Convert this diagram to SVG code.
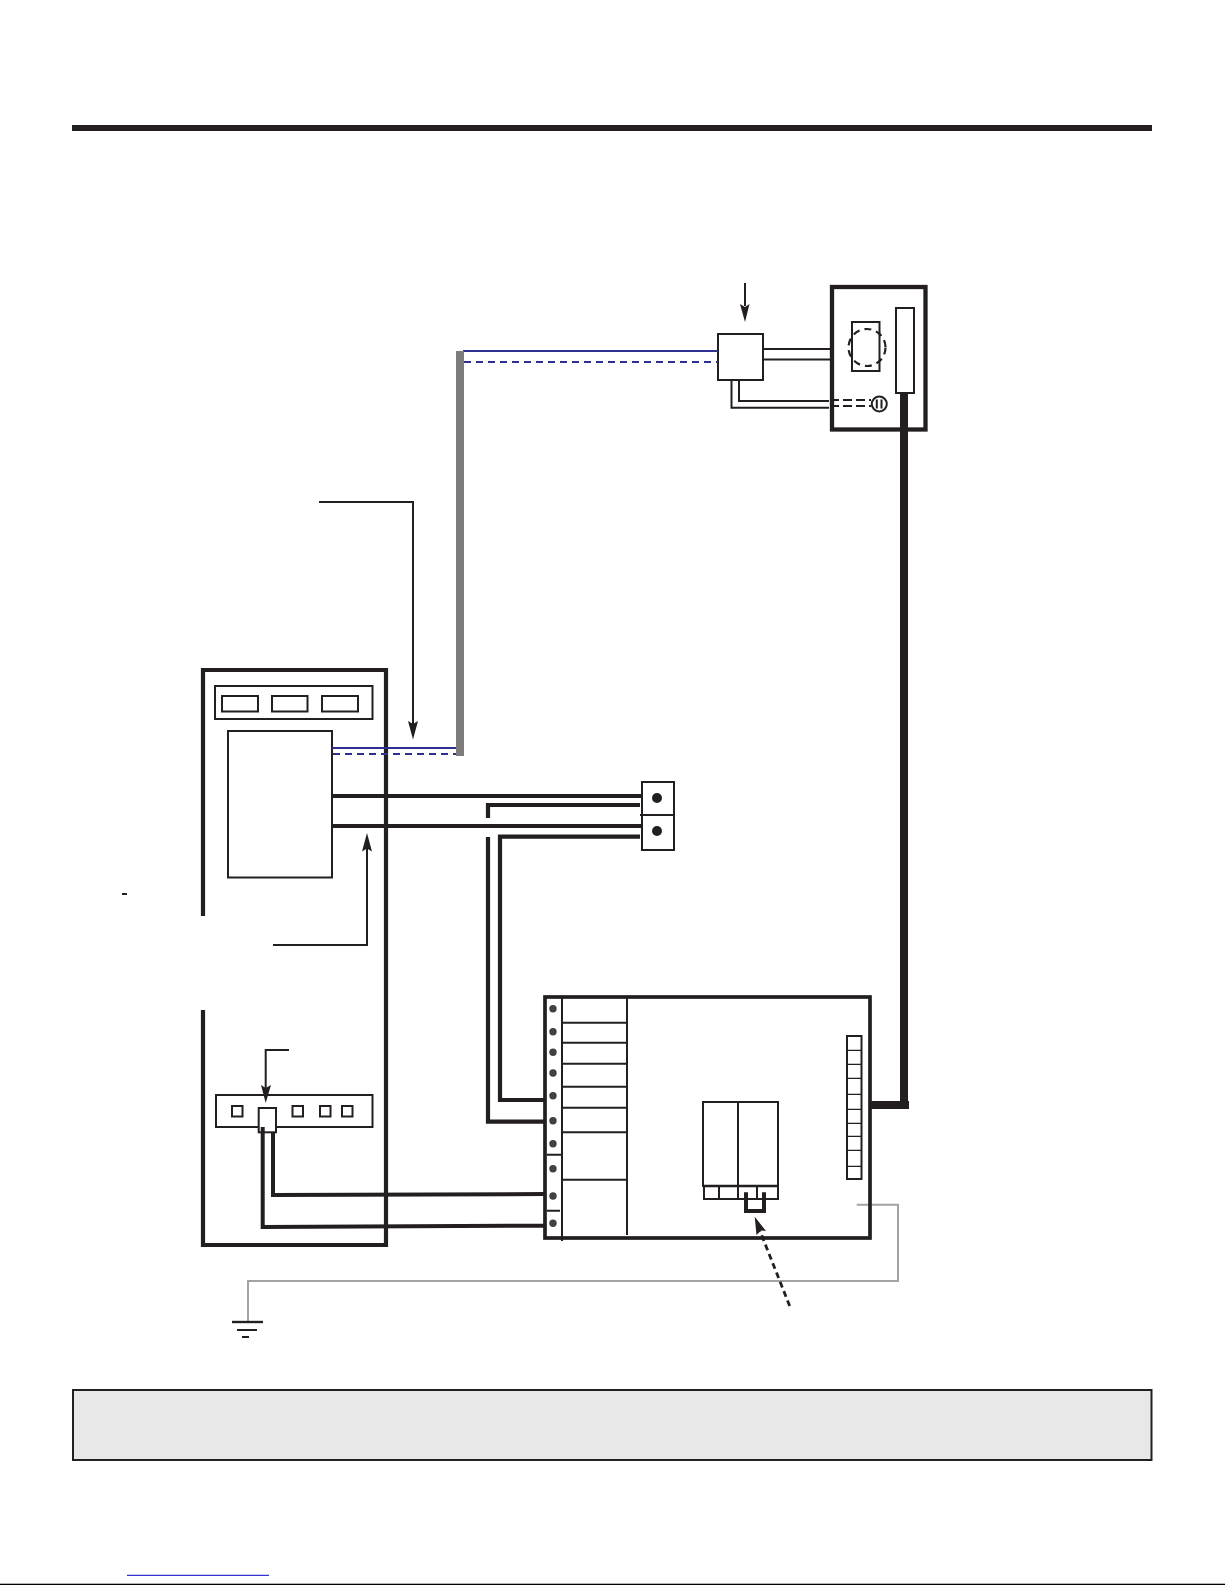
<svg xmlns="http://www.w3.org/2000/svg" width="1225" height="1585" viewBox="0 0 1225 1585">
<style>
.k{fill:none;stroke:#231f20;stroke-width:2}
.w{fill:#fff;stroke:#231f20;stroke-width:2}
.b{fill:none;stroke:#231f20;stroke-width:4.200}
.t{fill:none;stroke:#231f20;stroke-width:4}
.u{fill:none;stroke:#2e3192;stroke-width:2}
.d{stroke-dasharray:7 5}
.g{fill:none;stroke:#a3a3a3;stroke-width:2}
.h{fill:#231f20}
.p{fill:#414042}
</style>
<rect width="1225" height="1585" fill="#fff"/>
<g id="decor">
<rect x="72" y="125" width="1080" height="6" class="h"/>
<rect x="122" y="893" width="5" height="2" class="h"/>
<rect x="73" y="1390" width="1078.500" height="70" fill="#e8e8e8" stroke="#231f20" stroke-width="2"/>
<rect x="127" y="1574.800" width="142" height="1" fill="#0000cc"/>
<rect x="0" y="1583.700" width="1225" height="1.300" fill="#000"/>
</g>
<g id="panel-left">
<path class="b" d="M203 916V670H386V1245H203V1010"/>
<rect class="k" x="215" y="686" width="157.500" height="33"/>
<rect class="k" x="222" y="696" width="36" height="15.500"/>
<rect class="k" x="272" y="696" width="35.500" height="15.500"/>
<rect class="k" x="322" y="696" width="36" height="15.500"/>
<rect class="k" x="228" y="731" width="104" height="146.500"/>
<rect class="k" x="216" y="1095" width="156.500" height="32"/>
<rect class="k" x="232" y="1106" width="10.500" height="10.500"/>
<rect class="k" x="292.500" y="1106" width="10.500" height="10.500"/>
<rect class="k" x="320" y="1106" width="10.500" height="10.500"/>
<rect class="k" x="342" y="1106" width="10.500" height="10.500"/>
</g>
<g id="cabinet-top">
<rect x="832" y="287" width="93.500" height="142.500" fill="none" stroke="#231f20" stroke-width="4.300"/>
<rect class="k" x="852" y="322" width="27.500" height="49"/>
<circle cx="867" cy="347.500" r="18.500" fill="none" stroke="#231f20" stroke-width="2.200" stroke-dasharray="7 5"/>
<rect class="w" x="896" y="308" width="18" height="85"/>
<circle class="k" cx="879.300" cy="404" r="7.500"/>
<path class="k" d="M876.800 399.500V408.500M881.500 399.500V408.500" stroke-width="1.200"/>
</g>
<g id="junction-box"><rect class="k" x="718" y="334" width="45" height="46"/></g>
<g id="terminal-blocks">
<rect class="k" x="642" y="782" width="32" height="33"/>
<rect class="k" x="642" y="815" width="32" height="35"/>
<path d="M640 815H672" class="k" stroke-width="2.400"/>
<circle class="h" cx="657" cy="798" r="5"/>
<circle class="h" cx="657" cy="831" r="5"/>
</g>
<g id="connectors">
<path class="k" d="M745 283V306"/>
<polygon class="h" points="745,322 740,304 745,307 749.500,304"/>
<path class="k" d="M763 349H830M763 359.500H830"/>
<path class="k" d="M739 380V401H829M731.500 380V407.700H829"/>
<path class="k" d="M830 400H871M830 406H871" stroke-dasharray="9 4"/>
<path class="u" d="M463 351H718"/>
<path class="u d" d="M464 362H718"/>
<path class="u" d="M332 748H456"/>
<path class="u d" d="M333 754H456"/>
<rect x="456" y="351" width="8" height="405" fill="#7d7b7c"/>
<path class="k" d="M319 502H413V725"/>
<polygon class="h" points="413,739.500 408,721 413,724 418,721"/>
<path class="b" d="M332 796H642M332 826H642"/>
<path class="b" d="M640 805H488V818M488 837V1121.700H545"/>
<path class="b" d="M640 836.700H500V1100H545"/>
<path class="k" d="M273 945H367V848"/>
<polygon class="h" points="367,833 362,851.500 367,848.500 372,851.500"/>
<path class="k" d="M289 1050H265.700V1088"/>
<polygon class="h" points="265.700,1103 261,1085 265.700,1088 271,1085"/>
<path class="t" d="M273 1132V1195L545 1194"/>
<path class="t" d="M262.700 1128V1227L545 1225.700"/>
<rect x="900" y="393" width="8" height="716" class="h"/>
<rect x="871" y="1101" width="38" height="8" class="h"/>
<path class="g" d="M856.700 1204.700H898V1281H248V1322"/>
<path d="M232 1322H263" fill="none" stroke="#231f20" stroke-width="2.400"/>
<path d="M237 1330H257" fill="none" stroke="#231f20" stroke-width="2"/>
<path d="M242 1337H249" fill="none" stroke="#231f20" stroke-width="2"/>
<path d="M789.700 1306L760 1231" fill="none" stroke="#231f20" stroke-width="2.800" stroke-dasharray="6 4"/>
<polygon class="h" points="754.700,1216.700 766,1231 761,1230.500 756.500,1235"/>
</g>
<g id="controller">
<rect x="545" y="997" width="325" height="241" fill="none" stroke="#231f20" stroke-width="3.700"/>
<path class="k" d="M562 997V1241M627 997V1235"/>
<path class="k" d="M562 1022.700H627M562 1042.700H627M562 1063.700H627M562 1086.700H627M562 1107.700H627M562 1132.300H627M562 1179.700H627M547 1154.700H562M547 1210.700H560"/>
<circle class="p" cx="553" cy="1008.700" r="3.700"/>
<circle class="p" cx="553" cy="1031.700" r="3.700"/>
<circle class="p" cx="553" cy="1052.300" r="3.700"/>
<circle class="p" cx="553" cy="1073" r="3.700"/>
<circle class="p" cx="553" cy="1095.700" r="3.700"/>
<circle class="p" cx="553" cy="1120.700" r="3.700"/>
<circle class="p" cx="553" cy="1143.700" r="3.700"/>
<circle class="p" cx="553" cy="1168.700" r="3.700"/>
<circle class="p" cx="553" cy="1196" r="3.700"/>
<circle class="p" cx="553" cy="1223.300" r="3.700"/>
<rect class="k" x="847" y="1036" width="14.500" height="143"/>
<path d="M847 1050.300H861.500M847 1064.300H861.500M847 1078.300H861.500M847 1094.300H861.500M847 1109.300H861.500M847 1123.300H861.500M847 1136.300H861.500M847 1150.300H861.500M847 1166.300H861.500" fill="none" stroke="#231f20" stroke-width="1.300"/>
<rect class="k" x="703" y="1102" width="75" height="84"/>
<path class="k" d="M738 1102V1200"/>
<path class="k" d="M704 1186V1199H778V1186M719 1186V1199M757 1186V1199"/>
<path d="M703 1186H778" fill="none" stroke="#231f20" stroke-width="2.600"/>
<path class="t" d="M746 1192.300V1211H764V1192.300"/>
</g>
<rect x="258.700" y="1108" width="17.300" height="24.300" class="w" id="terminal-relay"/>
<path d="M262.700 1127V1133" fill="none" stroke="#231f20" stroke-width="4"/>
</svg>
